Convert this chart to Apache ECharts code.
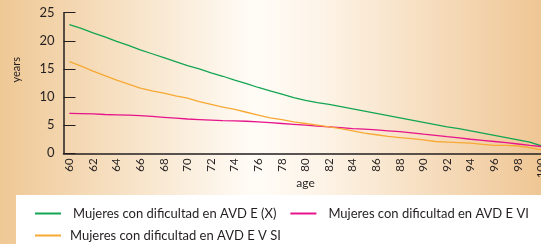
<!DOCTYPE html>
<html>
<head>
<meta charset="utf-8">
<script src="https://cdn.jsdelivr.net/npm/echarts@6/dist/echarts.min.js"></script>
<style>
  html, body { margin: 0; padding: 0; }
  #chart { width: 541px; height: 244px; }
</style>
</head>
<body>
<div id="chart"></div>
<script>
// edades 60..100
const ages = [];
for (let a = 60; a <= 100; a++) ages.push(String(a));

const nameX = "Mujeres con dificultad en AVD E (X)";
const nameVI = "Mujeres con dificultad en AVD E VI";
const nameVSI = "Mujeres con dificultad en AVD E V SI";

const valuesX = [22.9, 22.2, 21.4, 20.7, 19.9, 19.2, 18.4, 17.7, 17.0, 16.3,
  15.6, 15.0, 14.3, 13.7, 13.0, 12.4, 11.7, 11.1, 10.5, 9.9,
  9.4, 9.0, 8.7, 8.3, 7.9, 7.5, 7.1, 6.7, 6.3, 5.9,
  5.5, 5.1, 4.7, 4.4, 4.0, 3.6, 3.2, 2.8, 2.4, 2.0, 1.3];

const valuesVI = [7.1, 7.05, 7.0, 6.9, 6.85, 6.8, 6.7, 6.55, 6.4, 6.25,
  6.1, 6.0, 5.9, 5.8, 5.75, 5.7, 5.6, 5.45, 5.3, 5.15,
  5.0, 4.85, 4.7, 4.55, 4.4, 4.3, 4.15, 4.0, 3.85, 3.65,
  3.4, 3.2, 2.95, 2.75, 2.5, 2.3, 2.1, 1.9, 1.65, 1.4, 1.2];

const valuesVSI = [16.3, 15.5, 14.6, 13.8, 13.0, 12.3, 11.6, 11.1, 10.7, 10.2,
  9.8, 9.2, 8.7, 8.2, 7.8, 7.3, 6.8, 6.3, 6.0, 5.6,
  5.3, 5.0, 4.7, 4.4, 4.0, 3.6, 3.3, 3.0, 2.8, 2.6,
  2.4, 2.1, 2.0, 1.9, 1.8, 1.6, 1.4, 1.4, 1.3, 1.0, 0.6];

const chart = echarts.init(document.getElementById("chart"));
const font = "Lato";
const textColor = "#231f20";

const option = {
  animation: false,
  textStyle: { fontFamily: font },
  graphic: [
    {
      type: "rect", z: -10, silent: true,
      shape: { x: 0, y: 0, width: 541, height: 244 },
      style: {
        fill: new echarts.graphic.LinearGradient(0, 0, 1, 0, [
          { offset: 0, color: "#efc895" },
          { offset: 0.47, color: "#fffcf7" },
          { offset: 0.6, color: "#fdf3e6" },
          { offset: 1, color: "#efc694" }
        ])
      }
    },
    {
      type: "rect", z: -5, silent: true,
      shape: { x: 16, y: 195, width: 525, height: 49 },
      style: { fill: "#ffffff" }
    },
    {
      type: "text", left: 11, top: 57, rotation: Math.PI / 2,
      style: { text: "years", font: "11px Lato", fill: textColor }
    }
  ],
  grid: { left: 63.5, top: 12.7, height: 140.6, width: 484, outerBoundsMode: "none", containLabel: false },
  legend: [
    {
      data: [nameX, nameVI],
      left: 30, top: 202, width: 520,
      itemWidth: 26, itemHeight: 2, itemGap: 14,
      icon: "rect",
      textStyle: { fontSize: 13, color: textColor, padding: [0, 0, 0, 7] }
    },
    {
      data: [nameVSI],
      left: 30, top: 224,
      itemWidth: 26, itemHeight: 2,
      icon: "rect",
      textStyle: { fontSize: 13, color: textColor, padding: [0, 0, 0, 4] }
    }
  ],
  xAxis: {
    type: "category",
    data: ages,
    boundaryGap: true,
    name: "age",
    nameLocation: "middle",
    nameGap: 24,
    nameMoveOverlap: false,
    nameTextStyle: { fontSize: 12, color: textColor },
    axisLine: { lineStyle: { color: textColor, width: 1.5 } },
    axisTick: { interval: 0, length: 4, lineStyle: { color: textColor } },
    axisLabel: { interval: 1, rotate: 90, fontSize: 11.5, color: textColor, margin: 5 }
  },
  yAxis: {
    type: "value",
    min: 0, max: 25, interval: 5,
    axisLine: { show: true, lineStyle: { color: textColor, width: 1.5 } },
    axisTick: { show: true, inside: true, length: 12, lineStyle: { color: textColor } },
    axisLabel: { fontSize: 13, color: textColor, margin: 9 },
    splitLine: { show: false }
  },
  series: [
    { name: nameX, type: "line", data: valuesX, symbol: "none",
      itemStyle: { color: "#14a553" }, lineStyle: { width: 1.3 } },
    { name: nameVI, type: "line", data: valuesVI, symbol: "none",
      itemStyle: { color: "#e6138a" }, lineStyle: { width: 1.3 } },
    { name: nameVSI, type: "line", data: valuesVSI, symbol: "none",
      itemStyle: { color: "#f7a934" }, lineStyle: { width: 1.3 } }
  ]
};

chart.setOption(option);
</script>
</body>
</html>
